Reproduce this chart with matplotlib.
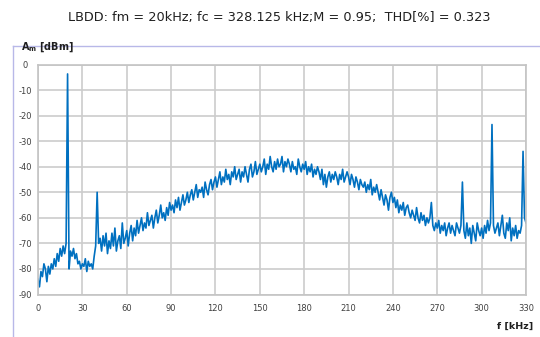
import numpy as np
import matplotlib
matplotlib.use("Agg")
import matplotlib.pyplot as plt
from matplotlib.lines import Line2D

title = "LBDD: fm = 20kHz; fc = 328.125 kHz;M = 0.95;  THD[%] = 0.323"
freq_khz = np.arange(0, 331)
amp_dbm = [
    -84, -87, -81, -83, -78, -80, -85, -79, -82, -78,
    -80, -76, -79, -74, -77, -72, -75, -71, -74, -70,
    -3.7, -80, -73, -75, -72, -76, -74, -78, -77, -80,
    -78, -79, -76, -81, -77, -79, -78, -80, -75, -71,
    -50, -70, -68, -73, -67, -71, -66, -74, -69, -72,
    -66, -71, -64, -73, -69, -67, -72, -62, -70, -68,
    -65, -71, -66, -63, -69, -64, -67, -61, -66, -63,
    -60, -65, -62, -64, -58, -63, -61, -59, -64, -60,
    -57, -62, -59, -55, -60, -58, -61, -56, -59, -54,
    -57, -55, -58, -53, -56, -52, -57, -54, -51, -55,
    -53, -50, -54, -51, -49, -53, -50, -47, -52, -49,
    -50, -48, -52, -46, -49, -51, -47, -45, -49, -46,
    -44, -48, -45, -42, -47, -44, -46, -41, -45, -43,
    -47, -42, -44, -40, -45, -43, -41, -46, -42, -44,
    -40, -43, -46, -41, -39, -44, -42, -38, -43, -41,
    -39, -42, -40, -37, -43, -39, -41, -36, -40, -42,
    -38, -41, -37, -40, -39, -36, -42, -38, -40, -37,
    -39, -42, -38, -41, -40, -43, -37, -40, -42, -39,
    -41, -38, -43, -40, -42, -39, -44, -41, -43, -40,
    -42, -45, -41, -47, -43, -48, -44, -42, -46, -43,
    -45, -42, -44, -47, -43, -45, -41, -46, -44, -42,
    -44, -47, -43, -45, -48, -44, -46, -49, -45, -47,
    -48, -46, -50, -47, -49, -45, -51, -48, -50, -47,
    -50, -53, -49, -52, -55, -51, -53, -57, -52, -50,
    -54, -52, -56, -53, -58, -55, -57, -54, -59, -56,
    -55, -58, -60, -57, -59, -61, -56, -60, -62, -58,
    -61, -59, -63, -60, -62, -60, -54, -63, -65, -62,
    -64, -61, -66, -63, -65, -62, -67, -64, -62, -66,
    -63, -65, -67, -62, -64, -66, -63, -46, -65, -68,
    -62, -67, -64, -70, -63, -66, -69, -62, -65, -67,
    -64, -68, -63, -66, -61, -65, -62, -23.5, -63, -66,
    -64, -62, -67, -63, -59, -66, -68, -62, -65, -60,
    -69, -64, -67, -63, -68, -65, -66, -63, -34, -60,
    -62,
]
x_ticks = list(range(0, 331, 30))
y_ticks = list(range(0, -91, -10))

W, H = 540, 337
fig = plt.figure(figsize=(W / 100, H / 100), dpi=100)
ax = fig.add_axes([38 / W, 1 - 294.5 / H, (526 - 38) / W, (294.5 - 64.5) / H])

ax.plot(freq_khz, amp_dbm, color="#0070C0", lw=1.2)
ax.set_xlim(0, 330)
ax.set_ylim(-90, 0)
ax.set_xticks(x_ticks)
ax.set_yticks(y_ticks)
ax.set_xticklabels([str(v) for v in x_ticks])
ax.set_yticklabels([str(v) for v in y_ticks], ha="center")
ax.grid(True, color="#cccccc", lw=1.2)
ax.set_axisbelow(True)
for s in ax.spines.values():
    s.set_color("#c4c4c4")
    s.set_linewidth(1.2)
ax.tick_params(length=0, labelsize=6, colors="#404040")
ax.tick_params(axis="x", pad=7)
ax.tick_params(axis="y", pad=9.4)

fig.text(279 / W, 1 - 17 / H, title, ha="center", va="center", fontsize=9.3, color="#202020")
fig.text(21 / W, 1 - 47 / H, r"A$_\mathregular{m}$ [dBm]", ha="left", va="center",
         fontsize=7, fontweight="bold", color="#202020")
fig.text(533 / W, 1 - 326 / H, "f [kHz]", ha="right", va="center",
         fontsize=6.8, fontweight="bold", color="#202020")

fig.add_artist(Line2D([13 / W, 13 / W], [0, 1 - 46 / H], transform=fig.transFigure,
                      color="#b8b8e8", lw=1.0))
fig.add_artist(Line2D([13 / W, 1], [1 - 46 / H, 1 - 46 / H], transform=fig.transFigure,
                      color="#b8b8e8", lw=1.0))

fig.savefig("out.png", dpi=100)
